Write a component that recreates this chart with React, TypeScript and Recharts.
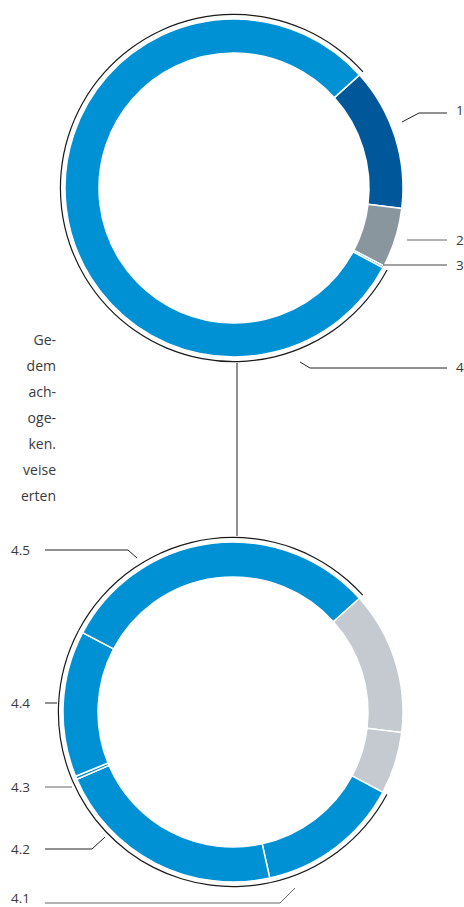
import { Pie, PieChart } from "recharts";

const topNames = ["1", "2", "3", "4"];
const topValues = [13.6, 5.7, 0.2, 80.5];
const topColors = ["#00589b", "#8a969e", "#0090d4", "#0090d4"];

const bottomNames = ["a", "b", "4.1", "4.2", "4.3", "4.4", "4.5"];
const bottomValues = [13.6, 5.9, 13.7, 22.0, 0.3, 13.9, 30.6];
const bottomColors = ["#c4cacf", "#c4cacf", "#0090d4", "#0090d4", "#0090d4", "#0090d4", "#0090d4"];

// which slices get the thin black outer arc
const topBracket = [false, false, false, true];
const bottomBracket = [false, false, true, true, true, true, true];

const sideText = ["Ge-", "dem", "ach-", "oge-", "ken.", "veise", "erten"];

const START = 42;
const R = 169;
const INNER = 135;

const build = (names: string[], values: number[], colors: string[], bracket: boolean[]) =>
  names.map((name, i) => ({
    name,
    value: values[i],
    fill: colors[i],
    arc: bracket[i] ? "#1a1a1a" : "transparent",
  }));

const topData = build(topNames, topValues, topColors, topBracket);
const bottomData = build(bottomNames, bottomValues, bottomColors, bottomBracket);
const arcTop = topData.map((d) => ({ ...d, fill: d.arc }));
const arcBottom = bottomData.map((d) => ({ ...d, fill: d.arc }));

const font = "'Open Sans', Lato, sans-serif";

export default function App() {
  return (
    <div style={{ position: "fixed", left: 0, top: 0, width: 464, height: 907, background: "#fff" }}>
      <PieChart
        width={464}
        height={907}
        margin={{ top: 0, right: 0, bottom: 0, left: 0 }}
        style={{ position: "absolute", left: 0, top: 0 }}
      >
        <Pie
          data={topData}
          dataKey="value"
          cx={234}
          cy={188}
          innerRadius={INNER}
          outerRadius={R}
          startAngle={START}
          endAngle={START - 360}
          stroke="#fff"
          strokeWidth={1.5}
          isAnimationActive={false}
        />
        <Pie
          data={arcTop}
          dataKey="value"
          cx={234}
          cy={188}
          innerRadius={R + 4}
          outerRadius={R + 5.2}
          startAngle={START}
          endAngle={START - 360}
          stroke="none"
          isAnimationActive={false}
        />
        <Pie
          data={bottomData}
          dataKey="value"
          cx={233}
          cy={712}
          innerRadius={INNER}
          outerRadius={R + 1}
          startAngle={START}
          endAngle={START - 360}
          stroke="#fff"
          strokeWidth={1.5}
          isAnimationActive={false}
        />
        <Pie
          data={arcBottom}
          dataKey="value"
          cx={233}
          cy={712}
          innerRadius={R + 5}
          outerRadius={R + 6.2}
          startAngle={START}
          endAngle={START - 360}
          stroke="none"
          isAnimationActive={false}
        />
      </PieChart>
      <svg width={464} height={907} style={{ position: "absolute", left: 0, top: 0, pointerEvents: "none" }}>
        <g fill="none" stroke="#222" strokeWidth={1}>
          <line x1={237} y1={363} x2={237} y2={536} />
          <polyline points="402,122 419,113 447,113" />
          <polyline points="407,240 447,240" stroke="#666" />
          <polyline points="383,265 447,265" stroke="#444" />
          <polyline points="300,362 310,368 447,368" />
          <polyline points="45,550 128,550 137,558" />
          <polyline points="45,703 57,703" />
          <polyline points="45,787 72,787" stroke="#666" />
          <polyline points="45,849 92,849 105,837" />
          <polyline points="45,903 280,903 295,888" stroke="#666" />
        </g>
        <g fontFamily={font} fontSize={13.5} fill="#3a3a3a">
          <text x={456} y={115}>{topNames[0]}</text>
          <text x={456} y={245}>{topNames[1]}</text>
          <text x={456} y={270}>{topNames[2]}</text>
          <text x={456} y={372}>{topNames[3]}</text>
          <text x={11} y={555}>{bottomNames[6]}</text>
          <text x={11} y={708}>{bottomNames[5]}</text>
          <text x={11} y={792}>{bottomNames[4]}</text>
          <text x={11} y={854}>{bottomNames[3]}</text>
          <text x={11} y={903}>{bottomNames[2]}</text>
        </g>
        <g fontFamily={font} fontSize={14} fill="#3a3a3a" textAnchor="end">
          {sideText.map((t, i) => (
            <text key={t} x={56} y={345 + i * 26}>
              {t}
            </text>
          ))}
        </g>
      </svg>
    </div>
  );
}
